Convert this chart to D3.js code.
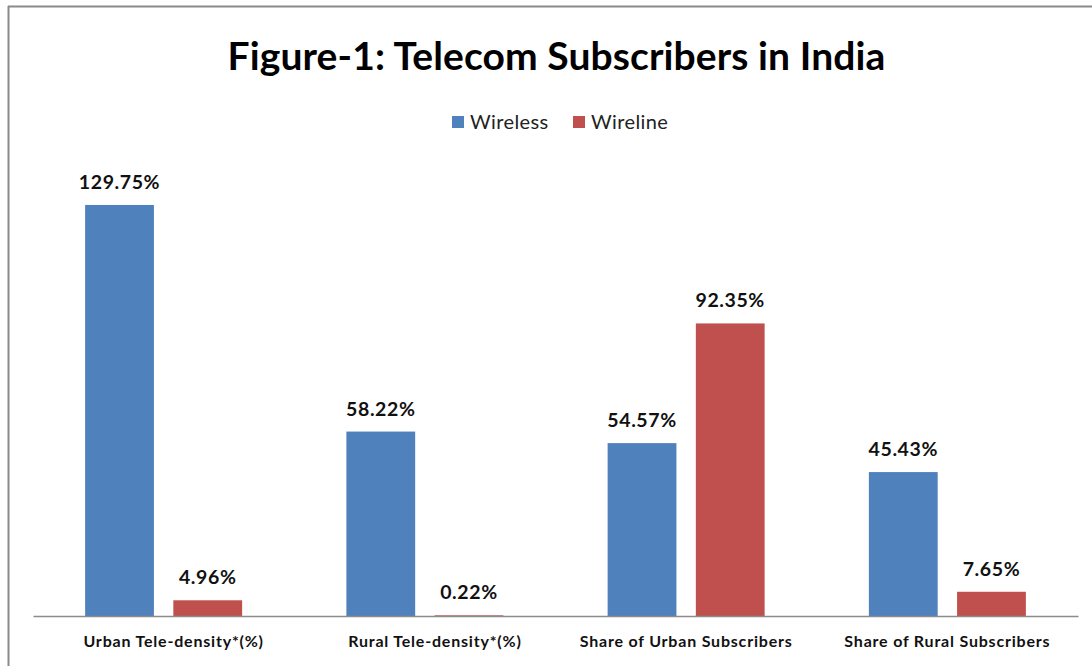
<!DOCTYPE html>
<html>
<head>
<meta charset="utf-8">
<style>
body { margin: 0; background: #fff; }
svg { display: block; }
text { font-family: Lato, "Open Sans", sans-serif; }
.title { font-size: 39px; font-weight: bold; fill: #000; letter-spacing: 0.1px; }
.legend text { font-size: 20px; fill: #222; letter-spacing: 0.4px; }
.value { font-size: 19.5px; font-weight: bold; fill: #111; letter-spacing: 0.6px; }
.cat { font-size: 16px; font-weight: bold; fill: #111; letter-spacing: 0.8px; }
</style>
</head>
<body>
<svg width="1092" height="666"></svg>
<script src="https://cdn.jsdelivr.net/npm/d3@7"></script>
<script>

var categories = ["Urban Tele-density*(%)", "Rural Tele-density*(%)", "Share of Urban Subscribers", "Share of Rural Subscribers"];
var seriesNames = ["Wireless", "Wireline"];
var wireless = [129.75, 58.22, 54.57, 45.43];
var wireline = [4.96, 0.22, 92.35, 7.65];
var colors = ["#4F81BD", "#C0504D"];

var svg = d3.select("svg"),
    width = +svg.attr("width"),
    height = +svg.attr("height");

// chart frame (top and left edges visible)
svg.append("line").attr("x1", 8).attr("y1", 6.5).attr("x2", width).attr("y2", 6.5)
    .attr("stroke", "#8a8a8a").attr("stroke-width", 2);
svg.append("line").attr("x1", 8.5).attr("y1", 6).attr("x2", 8.5).attr("y2", height)
    .attr("stroke", "#8a8a8a").attr("stroke-width", 2);

var left = 33, right = 1078, base = 616;

var x0 = d3.scaleBand().domain(categories).range([left, right]).paddingInner(0).paddingOuter(0);
var x1 = d3.scaleBand().domain(seriesNames).range([0, 157]).paddingInner(0.22).paddingOuter(0);
var y = d3.scaleLinear().domain([0, 140]).range([base, base - 140 * 3.168]);

var rows = categories.map(function(c, i) {
  return { cat: c, vals: [{ s: "Wireless", v: wireless[i] }, { s: "Wireline", v: wireline[i] }] };
});

svg.append("text").attr("class", "title")
    .attr("x", (left + right) / 2 + 1).attr("y", 70)
    .attr("text-anchor", "middle")
    .text("Figure-1: Telecom Subscribers in India");

var g = svg.selectAll(".grp")
    .data(rows)
  .enter().append("g")
    .attr("class", "grp")
    .attr("transform", function(d) { return "translate(" + (x0(d.cat) + (x0.bandwidth() - 157) / 2) + ",0)"; });

g.selectAll("rect")
    .data(function(d) { return d.vals; })
  .enter().append("rect")
    .attr("x", function(d) { return x1(d.s); })
    .attr("width", x1.bandwidth())
    .attr("y", function(d) { return y(d.v); })
    .attr("height", function(d) { return base - y(d.v); })
    .attr("fill", function(d, i) { return colors[i]; });

g.selectAll(".value")
    .data(function(d) { return d.vals; })
  .enter().append("text")
    .attr("class", "value")
    .attr("x", function(d) { return x1(d.s) + x1.bandwidth() / 2; })
    .attr("y", function(d) { return y(d.v) - 16; })
    .attr("text-anchor", "middle")
    .text(function(d) { return d.v.toFixed(2) + "%"; });

// x axis
var axis = svg.append("g")
    .attr("transform", "translate(0," + base + ")")
    .call(d3.axisBottom(x0).tickSize(0).tickPadding(0));
axis.select(".domain").attr("stroke", "#8c8c8c").attr("stroke-width", 1.5);
// the tele-density labels sit a little right of centre in the original
axis.selectAll(".tick text").attr("class", "cat").attr("dy", null).attr("y", 31)
    .attr("dx", function(d) { return d.indexOf("*") >= 0 ? 10 : 0; });
axis.attr("font-family", null).attr("font-size", null);

// legend
var legend = svg.append("g").attr("class", "legend");
var lx = [452, 573];
seriesNames.forEach(function(s, i) {
  legend.append("rect").attr("x", lx[i]).attr("y", 116).attr("width", 12).attr("height", 12).attr("fill", colors[i]);
  legend.append("text").attr("x", lx[i] + 18).attr("y", 129).text(s);
});

</script>
</body>
</html>
